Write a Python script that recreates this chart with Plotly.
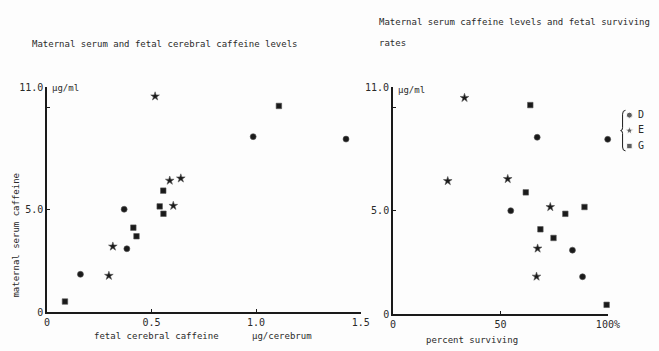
import plotly.graph_objects as go

W, H = 659, 351

# ---------------- data ----------------
groups = ["D", "E", "G"]
symbols = {"D": "circle", "E": "star", "G": "square"}

# left panel: fetal cerebral caffeine (ug/cerebrum) vs maternal serum caffeine (ug/ml)
left_x = {
    "D": [0.369, 0.382, 0.160, 0.986, 1.430],
    "E": [0.517, 0.587, 0.640, 0.604, 0.315, 0.296],
    "G": [0.556, 0.539, 0.557, 0.413, 0.428, 0.086, 1.109],
}
left_y = {
    "D": [5.03, 3.10, 1.85, 8.58, 8.46],
    "E": [10.55, 6.43, 6.54, 5.20, 3.21, 1.78],
    "G": [5.94, 5.17, 4.81, 4.13, 3.71, 0.52, 10.08],
}

# right panel: percent surviving vs maternal serum caffeine (ug/ml)
right_x = {
    "D": [54.8, 67.1, 99.9, 83.5, 88.2],
    "E": [33.3, 25.5, 53.4, 73.2, 67.3, 66.8],
    "G": [63.9, 61.8, 89.1, 80.2, 68.6, 74.7, 99.4],
}
right_y = {
    "D": [5.01, 8.57, 8.47, 3.10, 1.81],
    "E": [10.48, 6.45, 6.55, 5.19, 3.18, 1.82],
    "G": [10.13, 5.90, 5.19, 4.86, 4.11, 3.69, 0.45],
}

left_xticks = [0, 0.5, 1.0, 1.5]
left_xticktext = ["0", "0.5", "1.0", "1.5"]
right_xticks = [0, 50, 100]
right_xticktext = ["0", "50", "100%"]
yticks = [0, 5, 10, 11]
yticktext = ["0", "5.0", "", "11.0"]

# ---------------- helpers ----------------
def px(x):
    return x / W

def py(y):
    return 1 - y / H

INK = "#1a1a1a"
TXT = "#2a2a2a"
FONT = "DejaVu Sans Mono"
msize = {"D": 6, "E": 6.5, "G": 5.5}

fig = go.Figure()

for g in groups:
    fig.add_trace(go.Scatter(
        x=left_x[g], y=left_y[g], mode="markers", xaxis="x", yaxis="y",
        marker=dict(symbol=symbols[g], size=msize[g], color=INK,
                    line=dict(width=0.6, color="#555")),
        showlegend=False, hoverinfo="skip", cliponaxis=False))
    fig.add_trace(go.Scatter(
        x=right_x[g], y=right_y[g], mode="markers", xaxis="x2", yaxis="y2",
        marker=dict(symbol=symbols[g], size=msize[g], color=INK,
                    line=dict(width=0.6, color="#555")),
        showlegend=False, hoverinfo="skip", cliponaxis=False))

# key (legend) drawn on a tiny axis
fig.add_trace(go.Scatter(
    x=[5, 5, 5], y=[2, 1, 0], mode="markers", xaxis="x3", yaxis="y3",
    marker=dict(symbol=[symbols[g] for g in groups],
                size=[msize[g] for g in groups], color=INK),
    showlegend=False, hoverinfo="skip", cliponaxis=False))
fig.add_trace(go.Scatter(
    x=[17, 17, 17], y=[2, 1, 0], mode="text", xaxis="x3", yaxis="y3",
    text=groups, textposition="middle center",
    textfont=dict(family=FONT, size=10, color=TXT),
    showlegend=False, hoverinfo="skip", cliponaxis=False))

axis_common = dict(
    showgrid=False, zeroline=False, showline=True, linecolor=INK, linewidth=1.5,
    ticks="inside", ticklen=3, tickcolor=INK, tickwidth=1,
    tickfont=dict(family=FONT, size=10, color=TXT), mirror=False,
)

fig.update_layout(
    width=W, height=H,
    margin=dict(l=0, r=0, t=0, b=0),
    paper_bgcolor="#fdfdfd", plot_bgcolor="#fdfdfd",
    font=dict(family=FONT, size=9, color=TXT),
    xaxis=dict(domain=[px(45), px(366)], range=[0, 1.5], anchor="y",
               tickvals=left_xticks, ticktext=left_xticktext, **axis_common),
    yaxis=dict(domain=[py(317), py(84)], range=[0, 11], anchor="x",
               tickvals=yticks, ticktext=yticktext, **axis_common),
    xaxis2=dict(domain=[px(399), px(619)], range=[0, 100], anchor="y2",
                tickvals=right_xticks, ticktext=right_xticktext, **axis_common),
    yaxis2=dict(domain=[py(319), py(84)], range=[0, 11], anchor="x2",
                tickvals=yticks, ticktext=yticktext, **axis_common),
    xaxis3=dict(domain=[px(636), px(659)], range=[0, 23], anchor="y3",
                visible=False, fixedrange=True),
    yaxis3=dict(domain=[py(153), py(105)], range=[-0.5, 2.5], anchor="x3",
                visible=False, fixedrange=True),
)

ann = [
    dict(text="Maternal serum and fetal cerebral caffeine levels",
         x=px(28), y=py(39), xanchor="left", yanchor="middle", size=9),
    dict(text="Maternal serum caffeine levels and fetal surviving",
         x=px(383), y=py(17), xanchor="left", yanchor="middle", size=9),
    dict(text="rates", x=px(383), y=py(38), xanchor="left", yanchor="middle", size=9),
    dict(text="\u03bcg/ml", x=px(48), y=py(85), xanchor="left", yanchor="middle", size=9),
    dict(text="\u03bcg/ml", x=px(402), y=py(87), xanchor="left", yanchor="middle", size=9),
    dict(text="fetal cerebral caffeine", x=px(157), y=py(342), xanchor="center",
         yanchor="middle", size=9),
    dict(text="\u03bcg/cerebrum", x=px(286), y=py(342), xanchor="center",
         yanchor="middle", size=9),
    dict(text="percent surviving", x=px(480), y=py(346), xanchor="center",
         yanchor="middle", size=9),
    dict(text="maternal serum caffeine", x=px(13), y=py(237), xanchor="center",
         yanchor="middle", size=9, textangle=-90),
]
for a in ann:
    fig.add_annotation(
        text=a["text"], x=a["x"], y=a["y"], xref="paper", yref="paper",
        xanchor=a["xanchor"], yanchor=a["yanchor"], showarrow=False,
        textangle=a.get("textangle", 0),
        font=dict(family=FONT, size=a["size"], color=TXT))

# curly bracket of the key
pts = [(637, 108), (634, 108), (634, 112), (634, 126), (634, 129), (632, 129),
       (634, 129), (634, 132), (634, 146), (634, 150), (637, 150)]
p = [(px(a), py(b)) for a, b in pts]
path = (f"M {p[0][0]},{p[0][1]} Q {p[1][0]},{p[1][1]} {p[2][0]},{p[2][1]} "
        f"L {p[3][0]},{p[3][1]} Q {p[4][0]},{p[4][1]} {p[5][0]},{p[5][1]} "
        f"Q {p[6][0]},{p[6][1]} {p[7][0]},{p[7][1]} "
        f"L {p[8][0]},{p[8][1]} Q {p[9][0]},{p[9][1]} {p[10][0]},{p[10][1]}")
fig.add_shape(type="path", path=path, xref="paper", yref="paper",
              line=dict(color=INK, width=1))

fig.write_html("out.html")
